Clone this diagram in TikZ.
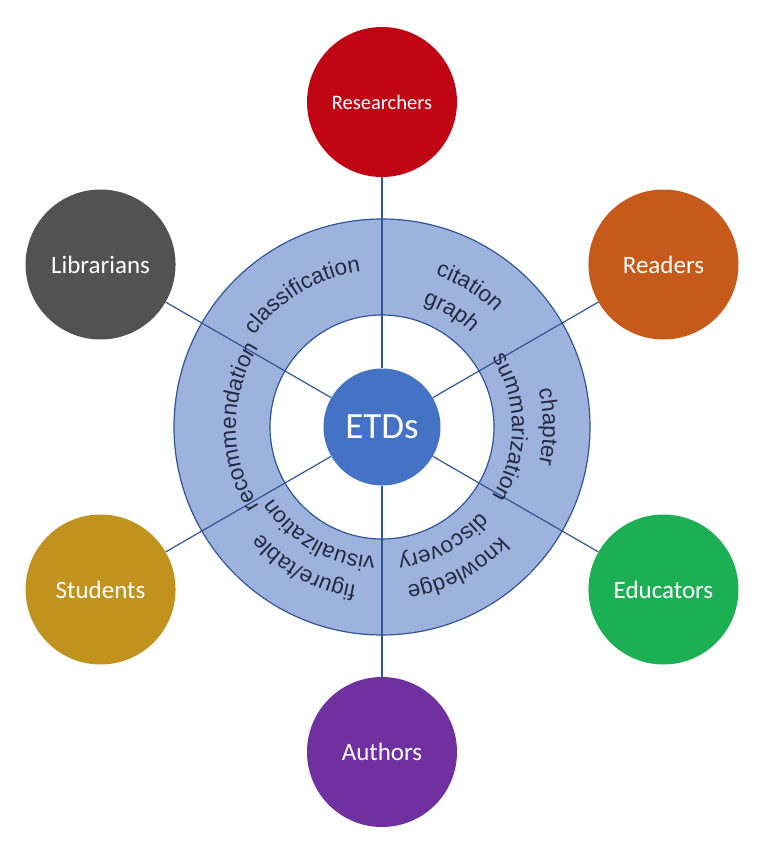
\documentclass[tikz,border=0pt]{standalone}
\usepackage{fontspec}
\usepackage{xcolor}
\usepackage{tikz}
\usetikzlibrary{decorations.text,backgrounds}
\newfontfamily\ringfont{Liberation Sans}
\newfontfamily\rolefont{Carlito}
\newcommand\ringface{\ringfont\fontsize{22.5}{26}\selectfont}
\definecolor{RojoResearch}{RGB}{192,6,20}
\definecolor{NaranjaReader}{RGB}{197,90,27}
\definecolor{GrisLibrarian}{RGB}{82,82,82}
\definecolor{OroStudent}{RGB}{193,146,30}
\definecolor{VerdeEducator}{RGB}{28,175,84}
\definecolor{MoradoAuthor}{RGB}{112,48,160}
\definecolor{AzulETD}{RGB}{68,114,196}
\definecolor{AzulAnillo}{RGB}{157,179,222}
\definecolor{AzulLinea}{RGB}{47,85,151}
\definecolor{TextoAnillo}{RGB}{35,42,65}

\begin{document}
\begin{tikzpicture}[x=1pt,y=1pt,
  role/.style={circle,minimum size=150pt,inner sep=0pt,text=white,
    font=\rolefont\fontsize{25}{29}\selectfont},
  hub/.style={circle,minimum size=117pt,inner sep=0pt,fill=AzulETD,text=white,
    font=\rolefont\fontsize{37}{41}\selectfont},
  spoke/.style={AzulLinea,line width=1.2pt},
  ringtext/.style={decorate,decoration={text along path,text align=center,
    text color=TextoAnillo}}]
  \useasboundingbox (-382,-425) rectangle (386,427);

  \node[hub] (etd) at (0,0) {ETDs};
  \node[role,fill=RojoResearch,font=\rolefont\fontsize{20.5}{24}\selectfont] (res) at (90:325) {Researchers};
  \node[role,fill=NaranjaReader] (rea) at (30:325) {Readers};
  \node[role,fill=VerdeEducator] (edu) at (-30:325) {Educators};
  \node[role,fill=MoradoAuthor] (aut) at (-90:325) {Authors};
  \node[role,fill=OroStudent] (stu) at (-150:325) {Students};
  \node[role,fill=GrisLibrarian] (lib) at (150:325) {Librarians};

  \begin{scope}[on background layer]
    \fill[AzulAnillo,even odd rule] (etd.center) circle (208) (etd.center) circle (112);
    \draw[AzulLinea,line width=1.2pt] (etd.center) circle (208) (etd.center) circle (112);
    \foreach \n in {res,rea,edu,aut,stu,lib}
      \draw[spoke] (etd) -- (\n);
  \end{scope}

  \path[ringtext,decoration={text={|\ringface|classification}}]
    (171:157) arc[start angle=171,end angle=71,radius=157];
  \path[ringtext,decoration={text={|\ringface|citation}}]
    (108:161) arc[start angle=108,end angle=8,radius=161];
  \path[ringtext,decoration={text={|\ringface|graph}}]
    (109:130) arc[start angle=109,end angle=9,radius=130];
  \path[ringtext,decoration={text={|\ringface|chapter}}]
    (50:161) arc[start angle=50,end angle=-50,radius=161];
  \path[ringtext,decoration={text={|\ringface|summarization}}]
    (50:130) arc[start angle=50,end angle=-50,radius=130];
  \path[ringtext,decoration={text={|\ringface|knowledge}}]
    (-12:161) arc[start angle=-12,end angle=-112,radius=161];
  \path[ringtext,decoration={text={|\ringface|discovery}}]
    (-12:130) arc[start angle=-12,end angle=-112,radius=130];
  \path[ringtext,decoration={text={|\ringface|figure/table}}]
    (-69:161) arc[start angle=-69,end angle=-169,radius=161];
  \path[ringtext,decoration={text={|\ringface|visualization}}]
    (-70:130) arc[start angle=-70,end angle=-170,radius=130];
  \path[ringtext,decoration={text={|\ringface|recommendation}}]
    (230:146) arc[start angle=230,end angle=130,radius=146];
\end{tikzpicture}
\end{document}
